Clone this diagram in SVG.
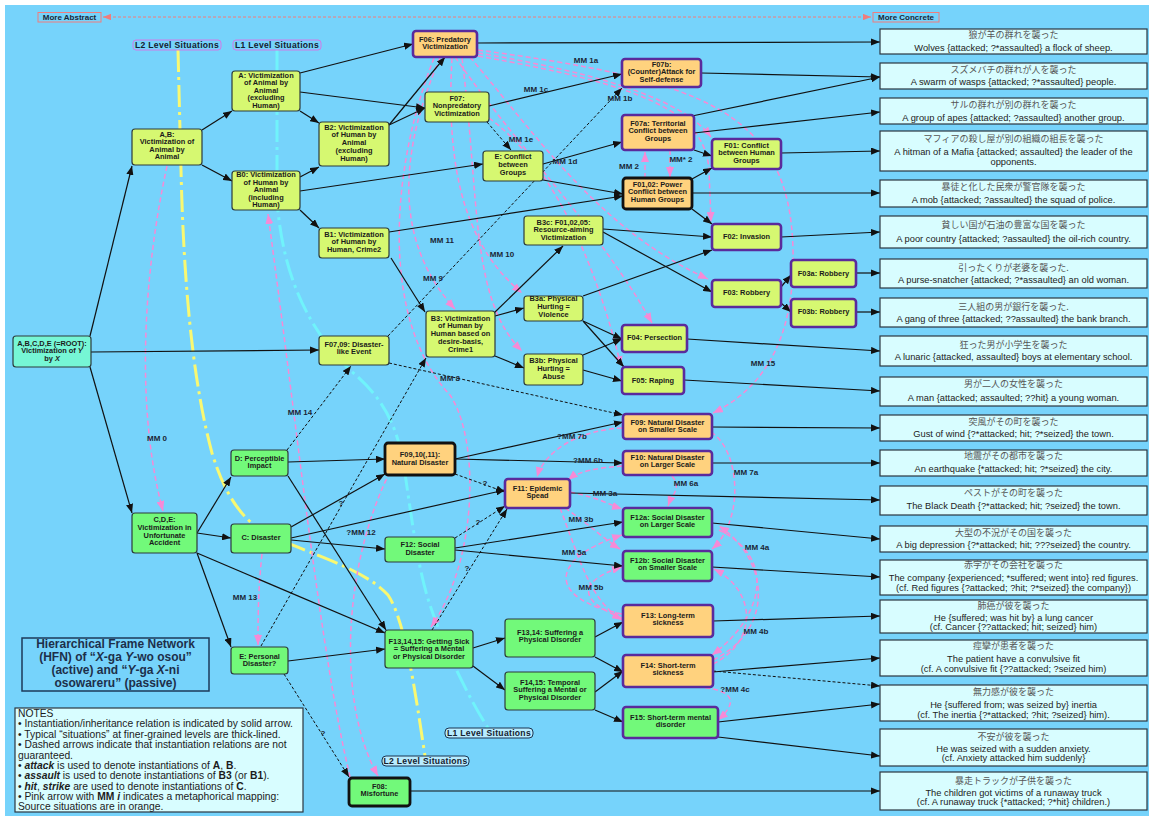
<svg xmlns="http://www.w3.org/2000/svg" width="1149" height="816" viewBox="0 0 1149 816">
<defs>
<style>
.t{font-family:"Liberation Sans",Arial,sans-serif;font-weight:bold;font-size:7.4px;text-anchor:middle;fill:#1b1b1b}
.n{stroke:#2d3b3b;stroke-width:1.2}
.yg{fill:#D6F871}
.or{fill:#FFD27E}
.gr{fill:#72F97A}
.tl{fill:#76F6D5}
.pp{stroke:#5A2A9C;stroke-width:2.6}
.bk{stroke:#111;stroke-width:2.8}
.c{fill:none;stroke:#111;stroke-width:1.2;marker-end:url(#ab)}
.d{fill:none;stroke:#111;stroke-width:1;stroke-dasharray:3 2;marker-end:url(#ab)}
.pk{fill:none;stroke:#F78AD6;stroke-width:1.5;stroke-dasharray:5 3;marker-end:url(#ap)}
.ex{fill:#D8FDFF;stroke:#2b3640;stroke-width:1.2}
.jp{font-family:"Noto Sans CJK JP",sans-serif;font-size:9px;fill:#555;text-anchor:middle}
.en{font-family:"Liberation Sans",Arial,sans-serif;font-size:9.3px;fill:#222;text-anchor:middle}
.mm{font-family:"Liberation Sans",Arial,sans-serif;font-weight:bold;font-size:8px;fill:#1a2636;text-anchor:middle}
.lv{font-family:"Liberation Sans",Arial,sans-serif;font-weight:bold;font-size:8.6px;fill:#14202e;text-anchor:middle;letter-spacing:0.3px}
.nt{font-family:"Liberation Sans",Arial,sans-serif;font-size:10.3px;fill:#1b1b1b}
.ti{font-family:"Liberation Sans",Arial,sans-serif;font-weight:bold;font-size:12px;fill:#1d2f4a;text-anchor:middle}
</style>
<marker id="ab" viewBox="0 0 10 8" refX="10" refY="4" markerWidth="9" markerHeight="7.2" orient="auto" markerUnits="userSpaceOnUse"><path d="M0,0 L10,4 L0,8 z" fill="#111"/></marker>
<marker id="ap" viewBox="0 0 10 8" refX="10" refY="4" markerWidth="10" markerHeight="8" orient="auto" markerUnits="userSpaceOnUse"><path d="M0,0 L10,4 L0,8 z" fill="#F78AD6"/></marker>
<marker id="as" viewBox="0 0 10 8" refX="10" refY="4" markerWidth="8" markerHeight="6.4" orient="auto" markerUnits="userSpaceOnUse"><path d="M0,0 L10,4 L0,8 z" fill="#F07C7C"/></marker>
<marker id="as0" viewBox="0 0 10 8" refX="0" refY="4" markerWidth="8" markerHeight="6.4" orient="auto" markerUnits="userSpaceOnUse"><path d="M10,0 L0,4 L10,8 z" fill="#F07C7C"/></marker>
</defs>
<rect x="0" y="0" width="1149" height="816" fill="#ffffff"/>
<rect x="5" y="5" width="1144" height="811" fill="#76D3FB"/>

<g id="axis">
<line x1="103" y1="17" x2="871" y2="17" stroke="#F07C7C" stroke-width="1" stroke-dasharray="3 2" marker-start="url(#as0)" marker-end="url(#as)"/>
<rect x="38" y="12.5" width="63" height="9.5" fill="none" stroke="#F07C7C" stroke-width="1"/>
<text class="mm" x="69.5" y="20.3">More Abstract</text>
<rect x="873" y="12.5" width="66" height="9.5" fill="none" stroke="#F07C7C" stroke-width="1"/>
<text class="mm" x="906" y="20.3">More Concrete</text>
</g>

<g id="level-lines">
<path d="M178,50 L181,170 C184,300 195,390 212,453 C225,495 240,515 260,530 C300,552 360,565 388,595 C405,620 415,690 425,756" fill="none" stroke="#F9F871" stroke-width="3" stroke-dasharray="22 5 3 5"/>
<path d="M277,50 L277,200 C283,280 310,330 350,370 C380,395 395,420 403,460 C412,520 418,570 430,605 C445,650 470,700 488,728" fill="none" stroke="#70F3FB" stroke-width="3" stroke-dasharray="22 5 3 5"/>
<rect x="133" y="40" width="88" height="10" rx="3" fill="#76D3FB" stroke="#D07BE8" stroke-width="1"/>
<text class="lv" x="177" y="48.3">L2 Level Situations</text>
<rect x="233" y="40" width="88" height="10" rx="3" fill="#76D3FB" stroke="#D07BE8" stroke-width="1"/>
<text class="lv" x="277" y="48.3">L1 Level Situations</text>
</g>

<g id="connectors">
<path class="pk" d="M167,166 C140,290 138,420 163,511"/>
<path class="pk" d="M350,777 C320,650 300,450 268,214"/>
<path class="pk" d="M390,472 C345,560 335,700 378,776"/>
<path class="pk" d="M262,554 C258,590 258,620 258,645"/>
<path class="pk" d="M440,58 C400,150 392,240 455,309"/>
<path class="pk" d="M434,58 C390,170 380,320 450,395 C480,440 478,560 431,627"/>
<path class="pk" d="M452,58 C445,180 470,250 522,293"/>
<path class="pk" d="M462,58 C480,200 470,300 522,351"/>
<path class="pk" d="M470,57 C540,140 600,230 708,279"/>
<path class="pk" d="M455,57 C520,150 600,230 652,323"/>
<path class="pk" d="M489,118 C560,170 600,280 621,366"/>
<path class="pk" d="M478,50 C700,80 790,110 793,250 C795,330 770,385 713,413"/>
<path class="pk" d="M478,53 C580,70 680,95 711,137"/>
<path class="pk" d="M478,56 C640,85 705,110 709,170 L711,222"/>
<path class="pk" d="M645,178 L645,152"/>
<path class="pk" d="M670,150 L670,177"/>
<path class="pk" d="M622,428 C580,430 545,450 537,477"/>
<path class="pk" d="M622,466 C600,468 580,470 568,480"/>
<path class="pk" d="M672,476 C682,488 672,495 668,506"/>
<path class="pk" d="M570,492 C600,498 610,505 622,509"/>
<path class="pk" d="M565,508 C590,525 605,540 620,549"/>
<path class="pk" d="M622,614 C550,600 545,560 622,535"/>
<path class="pk" d="M622,618 C575,600 580,580 622,567"/>
<path class="pk" d="M560,508 C580,560 590,600 622,620"/>
<path class="pk" d="M711,432 C740,450 745,520 712,549"/>
<path class="pk" d="M713,660 C775,630 770,560 719,526"/>
<path class="pk" d="M713,664 C760,640 755,590 714,569"/>
<path class="pk" d="M719,530 C780,560 760,620 712,655"/>
<path class="pk" d="M697,687 C740,690 735,705 718,720"/>
<path class="d" d="M487,122 L511,150"/>
<path class="d" d="M388,336 L622,88"/>
<path class="d" d="M389,363 L623,415"/>
<path class="d" d="M287,450 L351,366"/>
<path class="d" d="M261,646 L426,358"/>
<path class="d" d="M455,474 L505,492"/>
<path class="d" d="M455,538 L505,506"/>
<path class="d" d="M432,630 L507,509"/>
<path class="d" d="M284,674 L349,777"/>
<path class="d" d="M713,671 L880,686"/>
<path class="c" d="M90,336 L132,166"/>
<path class="c" d="M90,367 L132,513"/>
<path class="c" d="M91,352 L319,350"/>
<path class="c" d="M202,130 L232,111"/>
<path class="c" d="M202,165 L232,181"/>
<path class="c" d="M300,73 L413,44"/>
<path class="c" d="M300,92 L425,108"/>
<path class="c" d="M300,111 L319,123"/>
<path class="c" d="M300,177 L319,167"/>
<path class="c" d="M300,191 L483,164"/>
<path class="c" d="M300,210 L319,228"/>
<path class="c" d="M389,125 L445,57"/>
<path class="c" d="M389,125 L425,108"/>
<path class="c" d="M389,232 L623,196"/>
<path class="c" d="M391,258 L425,312"/>
<path class="c" d="M543,164 L622,142"/>
<path class="c" d="M543,180 L623,194"/>
<path class="c" d="M489,106 L622,74"/>
<path class="c" d="M694,150 L712,156"/>
<path class="c" d="M692,179 L712,168"/>
<path class="c" d="M692,209 L712,224"/>
<path class="c" d="M603,229 L712,237"/>
<path class="c" d="M603,232 L712,292"/>
<path class="c" d="M494,313 L563,246"/>
<path class="c" d="M495,316 L524,308"/>
<path class="c" d="M495,356 L524,368"/>
<path class="c" d="M583,296 L712,250"/>
<path class="c" d="M583,321 L622,339"/>
<path class="c" d="M583,321 L624,367"/>
<path class="c" d="M583,355 L622,339"/>
<path class="c" d="M583,370 L622,381"/>
<path class="c" d="M781,287 L791,275"/>
<path class="c" d="M781,303 L791,312"/>
<path class="c" d="M197,533 L231,477"/>
<path class="c" d="M197,533 L231,538"/>
<path class="c" d="M197,553 L231,647"/>
<path class="c" d="M197,553 L385,633"/>
<path class="c" d="M288,462 L385,459"/>
<path class="c" d="M288,476 L386,630"/>
<path class="c" d="M291,527 L385,474"/>
<path class="c" d="M291,538 L505,490"/>
<path class="c" d="M291,540 L385,549"/>
<path class="c" d="M288,661 L385,649"/>
<path class="c" d="M455,459 L623,422"/>
<path class="c" d="M455,459 L623,463"/>
<path class="c" d="M455,548 L623,522"/>
<path class="c" d="M455,550 L623,566"/>
<path class="c" d="M473,648 L505,638"/>
<path class="c" d="M473,666 L505,690"/>
<path class="c" d="M595,637 L623,622"/>
<path class="c" d="M595,657 L623,672"/>
<path class="c" d="M595,692 L623,671"/>
<path class="c" d="M595,710 L623,722"/>
<path class="c" d="M477,43 L880,42"/>
<path class="c" d="M701,73 L880,77"/>
<path class="c" d="M692,116 L880,77"/>
<path class="c" d="M694,133 L880,112"/>
<path class="c" d="M781,153 L880,151"/>
<path class="c" d="M692,193 L880,193"/>
<path class="c" d="M781,237 L880,232"/>
<path class="c" d="M856,273 L880,273"/>
<path class="c" d="M856,312 L880,312"/>
<path class="c" d="M687,339 L880,351"/>
<path class="c" d="M684,380 L880,391"/>
<path class="c" d="M712,427 L880,428"/>
<path class="c" d="M712,463 L880,463"/>
<path class="c" d="M570,493 L880,500"/>
<path class="c" d="M712,523 L880,539"/>
<path class="c" d="M712,567 L880,577"/>
<path class="c" d="M713,621 L880,616"/>
<path class="c" d="M713,672 L880,658"/>
<path class="c" d="M718,722 L880,704"/>
<path class="c" d="M718,737 L880,756"/>
<path class="c" d="M410,791 L880,791"/>
</g>

<g id="n-AB"><rect class="n yg" x="132" y="129" width="70" height="36" rx="3"/><text class="t"><tspan x="167" y="136.6">A,B:</tspan><tspan x="167" y="144.2">Victimization of</tspan><tspan x="167" y="151.8">Animal by</tspan><tspan x="167" y="159.4">Animal</tspan></text></g>
<g id="n-A"><rect class="n yg" x="232" y="71" width="68" height="40" rx="3"/><text class="t"><tspan x="266" y="77.6">A: Victimization</tspan><tspan x="266" y="85.2">of Animal by</tspan><tspan x="266" y="92.8">Animal</tspan><tspan x="266" y="100.4">(excluding</tspan><tspan x="266" y="108">Human)</tspan></text></g>
<g id="n-B0"><rect class="n yg" x="232" y="171" width="68" height="39" rx="3"/><text class="t"><tspan x="266" y="177.1">B0: Victimization</tspan><tspan x="266" y="184.6">of Human by</tspan><tspan x="266" y="192.1">Animal</tspan><tspan x="266" y="199.6">(including</tspan><tspan x="266" y="207.1">Human)</tspan></text></g>
<g id="n-B2"><rect class="n yg" x="319" y="122" width="70" height="44" rx="3"/><text class="t"><tspan x="354" y="129.6">B2: Victimization</tspan><tspan x="354" y="137.4">of Human by</tspan><tspan x="354" y="145.2">Animal</tspan><tspan x="354" y="153">(excluding</tspan><tspan x="354" y="160.8">Human)</tspan></text></g>
<g id="n-B1"><rect class="n yg" x="319" y="228" width="70" height="30" rx="3"/><text class="t"><tspan x="354" y="236.6">B1: Victimization</tspan><tspan x="354" y="244.2">of Human by</tspan><tspan x="354" y="251.8">Human, Crime2</tspan></text></g>
<g id="n-ROOT"><rect class="n tl" x="13" y="336" width="78" height="31" rx="3"/><text class="t"><tspan x="52" y="345.6">A,B,C,D,E (=ROOT):</tspan><tspan x="52" y="353.2">Victimization of <tspan font-style="italic">Y</tspan></tspan><tspan x="52" y="360.8">by <tspan font-style="italic">X</tspan></tspan></text></g>
<g id="n-F0709"><rect class="n yg" x="319" y="336" width="70" height="29" rx="3"/><text class="t"><tspan x="354" y="346.6">F07,09: Disaster-</tspan><tspan x="354" y="354.4">like Event</tspan></text></g>
<g id="n-F06"><rect class="or pp" x="413" y="31" width="64" height="26" rx="3"/><text class="t"><tspan x="445" y="41.6">F06: Predatory</tspan><tspan x="445" y="49.4">Victimization</tspan></text></g>
<g id="n-F07"><rect class="n yg" x="425" y="92" width="64" height="30" rx="3"/><text class="t"><tspan x="457" y="100.6">F07:</tspan><tspan x="457" y="108.2">Nonpredatory</tspan><tspan x="457" y="115.8">Victimization</tspan></text></g>
<g id="n-E"><rect class="n yg" x="483" y="151" width="60" height="30" rx="3"/><text class="t"><tspan x="513" y="158.6">E: Conflict</tspan><tspan x="513" y="166.6">between</tspan><tspan x="513" y="174.6">Groups</tspan></text></g>
<g id="n-F07b"><rect class="or pp" x="622" y="59" width="79" height="28" rx="3"/><text class="t"><tspan x="661.5" y="66.6">F07b:</tspan><tspan x="661.5" y="74.4">(Counter)Attack for</tspan><tspan x="661.5" y="82">Self-defense</tspan></text></g>
<g id="n-F07a"><rect class="or pp" x="622" y="115" width="72" height="35" rx="3"/><text class="t"><tspan x="658" y="125.6">F07a: Territorial</tspan><tspan x="658" y="133.2">Conflict between</tspan><tspan x="658" y="140.8">Groups</tspan></text></g>
<g id="n-F01"><rect class="yg pp" x="712" y="139" width="69" height="30" rx="3"/><text class="t"><tspan x="746.5" y="147.6">F01: Conflict</tspan><tspan x="746.5" y="155.2">between Human</tspan><tspan x="746.5" y="162.8">Groups</tspan></text></g>
<g id="n-F0102"><rect class="or bk" x="623" y="178" width="69" height="31" rx="3"/><text class="t"><tspan x="657.5" y="186.6">F01,02: Power</tspan><tspan x="657.5" y="194.4">Conflict between</tspan><tspan x="657.5" y="202.2">Human Groups</tspan></text></g>
<g id="n-B3c"><rect class="n yg" x="524" y="216" width="79" height="29" rx="3"/><text class="t"><tspan x="563.5" y="224.6">B3c: F01,02,05:</tspan><tspan x="563.5" y="232">Resource-aiming</tspan><tspan x="563.5" y="239.6">Victimization</tspan></text></g>
<g id="n-F02"><rect class="yg pp" x="712" y="224" width="69" height="26" rx="3"/><text class="t" x="746.5" y="238.8">F02: Invasion</text></g>
<g id="n-F03"><rect class="yg pp" x="712" y="280" width="69" height="27" rx="3"/><text class="t" x="746.5" y="294.8">F03: Robbery</text></g>
<g id="n-B3"><rect class="n yg" x="426" y="311" width="69" height="46" rx="3"/><text class="t"><tspan x="460.5" y="320.6">B3: Victimization</tspan><tspan x="460.5" y="328.4">of Human by</tspan><tspan x="460.5" y="336.2">Human based on</tspan><tspan x="460.5" y="344">desire-basis,</tspan><tspan x="460.5" y="351.8">Crime1</tspan></text></g>
<g id="n-B3a"><rect class="n yg" x="524" y="296" width="59" height="25" rx="3"/><text class="t"><tspan x="553.5" y="301.4">B3a: Physical</tspan><tspan x="553.5" y="309">Hurting =</tspan><tspan x="553.5" y="316.6">Violence</tspan></text></g>
<g id="n-B3b"><rect class="n yg" x="524" y="354" width="59" height="31" rx="3"/><text class="t"><tspan x="553.5" y="363.4">B3b: Physical</tspan><tspan x="553.5" y="371">Hurting =</tspan><tspan x="553.5" y="378.6">Abuse</tspan></text></g>
<g id="n-F04"><rect class="yg pp" x="622" y="325" width="65" height="27" rx="3"/><text class="t" x="654.5" y="339.8">F04: Persection</text></g>
<g id="n-F05"><rect class="yg pp" x="622" y="367" width="62" height="27" rx="3"/><text class="t" x="653" y="382.8">F05: Raping</text></g>
<g id="n-F03a"><rect class="yg pp" x="791" y="260" width="65" height="27" rx="3"/><text class="t" x="823.5" y="276">F03a: Robbery</text></g>
<g id="n-F03b"><rect class="yg pp" x="791" y="299" width="65" height="28" rx="3"/><text class="t" x="823.5" y="314">F03b: Robbery</text></g>
<g id="n-CDE"><rect class="n gr" x="132" y="513" width="65" height="40" rx="3"/><text class="t"><tspan x="164.5" y="522.4">C,D,E:</tspan><tspan x="164.5" y="530">Victimization in</tspan><tspan x="164.5" y="537.6">Unfortunate</tspan><tspan x="164.5" y="545.2">Accident</tspan></text></g>
<g id="n-D"><rect class="n gr" x="231" y="450" width="57" height="26" rx="3"/><text class="t"><tspan x="259.5" y="460.6">D: Perceptible</tspan><tspan x="259.5" y="468.2">Impact</tspan></text></g>
<g id="n-C"><rect class="n gr" x="231" y="524" width="60" height="29" rx="3"/><text class="t" x="261" y="540">C: Disaster</text></g>
<g id="n-EP"><rect class="n gr" x="231" y="647" width="57" height="27" rx="3"/><text class="t"><tspan x="259.5" y="658.6">E: Personal</tspan><tspan x="259.5" y="666.4">Disaster?</tspan></text></g>
<g id="n-F091011"><rect class="or bk" x="385" y="443" width="70" height="32" rx="3"/><text class="t"><tspan x="420" y="456.6">F09,10(,11):</tspan><tspan x="420" y="464.6">Natural Disaster</tspan></text></g>
<g id="n-F12"><rect class="n gr" x="385" y="537" width="70" height="25" rx="3"/><text class="t"><tspan x="420" y="546.8">F12: Social</tspan><tspan x="420" y="554.6">Disaster</tspan></text></g>
<g id="n-F11"><rect class="or pp" x="505" y="479" width="65" height="29" rx="3"/><text class="t"><tspan x="537.5" y="490.6">F11: Epidemic</tspan><tspan x="537.5" y="498.4">Spead</tspan></text></g>
<g id="n-F09"><rect class="or pp" x="623" y="414" width="89" height="25" rx="3"/><text class="t"><tspan x="667.5" y="424.6">F09: Natural Disaster</tspan><tspan x="667.5" y="432.2">on Smaller Scale</tspan></text></g>
<g id="n-F10"><rect class="or pp" x="623" y="451" width="89" height="24" rx="3"/><text class="t"><tspan x="667.5" y="459.8">F10: Natural Disaster</tspan><tspan x="667.5" y="467.4">on Larger Scale</tspan></text></g>
<g id="n-F12a"><rect class="gr pp" x="623" y="508" width="89" height="29" rx="3"/><text class="t"><tspan x="667.5" y="519.6">F12a: Social Disaster</tspan><tspan x="667.5" y="527.4">on Larger Scale</tspan></text></g>
<g id="n-F12b"><rect class="gr pp" x="623" y="551" width="89" height="30" rx="3"/><text class="t"><tspan x="667.5" y="562.6">F12b: Social Disaster</tspan><tspan x="667.5" y="570.4">on Smaller Scale</tspan></text></g>
<g id="n-F13"><rect class="or pp" x="623" y="605" width="90" height="32" rx="3"/><text class="t"><tspan x="668" y="617.6">F13: Long-term</tspan><tspan x="668" y="625.4">sickness</tspan></text></g>
<g id="n-F14"><rect class="or pp" x="623" y="655" width="90" height="32" rx="3"/><text class="t"><tspan x="668" y="667.6">F14: Short-term</tspan><tspan x="668" y="675.4">sickness</tspan></text></g>
<g id="n-F15"><rect class="gr pp" x="623" y="707" width="95" height="31" rx="3"/><text class="t"><tspan x="670.5" y="719.6">F15: Short-term mental</tspan><tspan x="670.5" y="727.4">disorder</tspan></text></g>
<g id="n-F131415"><rect class="n gr" x="385" y="630" width="88" height="38" rx="3"/><text class="t"><tspan x="429" y="643.6">F13,14,15: Getting Sick</tspan><tspan x="429" y="651.2">= Suffering a Mental</tspan><tspan x="429" y="658.8">or Physical Disorder</tspan></text></g>
<g id="n-F1314"><rect class="n gr" x="505" y="619" width="90" height="38" rx="3"/><text class="t"><tspan x="550" y="634.6">F13,14: Suffering a</tspan><tspan x="550" y="642.4">Physical Disorder</tspan></text></g>
<g id="n-F1415"><rect class="n gr" x="505" y="672" width="90" height="38" rx="3"/><text class="t"><tspan x="550" y="684.6">F14,15: Temporal</tspan><tspan x="550" y="692.2">Suffering a Mental or</tspan><tspan x="550" y="699.8">Physical Disorder</tspan></text></g>
<g id="n-F08"><rect class="gr bk" x="349" y="778" width="61" height="28" rx="3"/><text class="t"><tspan x="379.5" y="788.6">F08:</tspan><tspan x="379.5" y="796.4">Misfortune</tspan></text></g>

<g id="level-labels-bottom">
<rect x="445" y="728" width="88" height="10" rx="4" fill="#B8ECFF" stroke="#1a3350" stroke-width="1"/>
<text class="lv" x="489" y="736.3">L1 Level Situations</text>
<rect x="382" y="756" width="87" height="10" rx="4" fill="#B8ECFF" stroke="#1a3350" stroke-width="1"/>
<text class="lv" x="425.5" y="764.3">L2 Level Situations</text>
</g>

<g id="mm-labels">
<text class="mm" x="586" y="63">MM 1a</text>
<text class="mm" x="536" y="92">MM 1c</text>
<text class="mm" x="620" y="101">MM 1b</text>
<text class="mm" x="521" y="142">MM 1e</text>
<text class="mm" x="565" y="164">MM 1d</text>
<text class="mm" x="629" y="169">MM 2</text>
<text class="mm" x="681" y="162">MM* 2</text>
<text class="mm" x="442" y="243">MM 11</text>
<text class="mm" x="502" y="257">MM 10</text>
<text class="mm" x="433" y="281">MM 9</text>
<text class="mm" x="450" y="381">MM 8</text>
<text class="mm" x="763" y="366">MM 15</text>
<text class="mm" x="157" y="441">MM 0</text>
<text class="mm" x="300" y="415">MM 14</text>
<text class="mm" x="361" y="535">?MM 12</text>
<text class="mm" x="245" y="600">MM 13</text>
<text class="mm" x="341" y="506">?</text>
<text class="mm" x="572" y="439">?MM 7b</text>
<text class="mm" x="588" y="463">?MM 6b</text>
<text class="mm" x="686" y="486">MM 6a</text>
<text class="mm" x="746" y="475">MM 7a</text>
<text class="mm" x="605" y="496">MM 3a</text>
<text class="mm" x="581" y="522">MM 3b</text>
<text class="mm" x="574" y="555">MM 5a</text>
<text class="mm" x="591" y="590">MM 5b</text>
<text class="mm" x="757" y="550">MM 4a</text>
<text class="mm" x="756" y="634">MM 4b</text>
<text class="mm" x="735" y="692">?MM 4c</text>
<text class="mm" x="485" y="486">?</text>
<text class="mm" x="478" y="525">?</text>
<text class="mm" x="467" y="571">?</text>
<text class="mm" x="323" y="736">?</text>
</g>

<g id="examples">
<g id="ex1"><rect class="ex" x="880" y="29" width="267" height="25"/><text class="jp" x="1013.5" y="37.5">狼が羊の群れを襲った</text><text class="en" x="1013.5" y="51">Wolves {attacked; ?*assaulted} a flock of sheep.</text></g>
<g id="ex2"><rect class="ex" x="880" y="63" width="267" height="26"/><text class="jp" x="1013.5" y="72.5">スズメバチの群れが人を襲った</text><text class="en" x="1013.5" y="85">A swarm of wasps {attacked; ?*assaulted} people.</text></g>
<g id="ex3"><rect class="ex" x="880" y="98" width="267" height="26"/><text class="jp" x="1013.5" y="107.5">サルの群れが別の群れを襲った</text><text class="en" x="1013.5" y="121">A group of apes {attacked; ?assaulted} another group.</text></g>
<g id="ex4"><rect class="ex" x="880" y="131" width="267" height="40"/><text class="jp" x="1013.5" y="141.5">マフィアの殺し屋が別の組織の組長を襲った</text><text class="en" x="1013.5" y="155">A hitman of a Mafia {attacked; assaulted} the leader of the</text><text class="en" x="1013.5" y="165">opponents.</text></g>
<g id="ex5"><rect class="ex" x="880" y="180" width="267" height="27"/><text class="jp" x="1013.5" y="189.5">暴徒と化した民衆が警官隊を襲った</text><text class="en" x="1013.5" y="203">A mob {attacked; ?assaulted} the squad of police.</text></g>
<g id="ex6"><rect class="ex" x="880" y="216" width="267" height="32"/><text class="jp" x="1013.5" y="227.5">貧しい国が石油の豊富な国を襲った</text><text class="en" x="1013.5" y="242">A poor country {attacked; ?assaulted} the oil-rich country.</text></g>
<g id="ex7"><rect class="ex" x="880" y="259" width="267" height="29"/><text class="jp" x="1013.5" y="270.5">引ったくりが老婆を襲った.</text><text class="en" x="1013.5" y="283">A purse-snatcher {attacked; ?*assaulted} an old woman.</text></g>
<g id="ex8"><rect class="ex" x="880" y="298" width="267" height="29"/><text class="jp" x="1013.5" y="309.5">三人組の男が銀行を襲った.</text><text class="en" x="1013.5" y="322">A gang of three {attacked; ??assaulted} the bank branch.</text></g>
<g id="ex9"><rect class="ex" x="880" y="336" width="267" height="30"/><text class="jp" x="1013.5" y="347.5">狂った男が小学生を襲った</text><text class="en" x="1013.5" y="360">A lunaric {attacked, assaulted} boys at elementary school.</text></g>
<g id="ex10"><rect class="ex" x="880" y="377" width="267" height="29"/><text class="jp" x="1013.5" y="386.5">男が二人の女性を襲った</text><text class="en" x="1013.5" y="401">A man {attacked; assaulted; ??hit} a young woman.</text></g>
<g id="ex11"><rect class="ex" x="880" y="415" width="267" height="26"/><text class="jp" x="1013.5" y="424.5">突風がその町を襲った</text><text class="en" x="1013.5" y="437">Gust of wind {?*attacked; hit; ?*seized} the town.</text></g>
<g id="ex12"><rect class="ex" x="880" y="450" width="267" height="26"/><text class="jp" x="1013.5" y="458.5">地震がその都市を襲った</text><text class="en" x="1013.5" y="472">An earthquake {*attacked; hit; ?*seized} the city.</text></g>
<g id="ex13"><rect class="ex" x="880" y="486" width="267" height="29"/><text class="jp" x="1013.5" y="495.5">ペストがその町を襲った</text><text class="en" x="1013.5" y="509">The Black Death {?*attacked; hit; ?seized} the town.</text></g>
<g id="ex14"><rect class="ex" x="880" y="526" width="267" height="26"/><text class="jp" x="1013.5" y="535.5">大型の不況がその国を襲った</text><text class="en" x="1013.5" y="548">A big depression {?*attacked; hit; ???seized} the country.</text></g>
<g id="ex15"><rect class="ex" x="880" y="560" width="267" height="35"/><text class="jp" x="1013.5" y="567.5">赤字がその会社を襲った</text><text class="en" x="1013.5" y="581">The company {experienced; *suffered; went into} red figures.</text><text class="en" x="1013.5" y="591">(cf. Red figures {?attacked; ?hit; ?*seized} the company})</text></g>
<g id="ex16"><rect class="ex" x="880" y="600" width="267" height="33"/><text class="jp" x="1013.5" y="608.5">肺癌が彼を襲った</text><text class="en" x="1013.5" y="621">He {suffered; was hit by} a lung cancer</text><text class="en" x="1013.5" y="630">(cf. Cancer {??attacked; hit; seized} him)</text></g>
<g id="ex17"><rect class="ex" x="880" y="640" width="267" height="36"/><text class="jp" x="1013.5" y="648.5">痙攣が患者を襲った</text><text class="en" x="1013.5" y="662">The patient have a convulsive fit</text><text class="en" x="1013.5" y="672">(cf. A convulsive fit {??attacked; ?seized him)</text></g>
<g id="ex18"><rect class="ex" x="880" y="685" width="267" height="36"/><text class="jp" x="1013.5" y="694.5">無力感が彼を襲った</text><text class="en" x="1013.5" y="708">He {suffered from; was seized by} inertia</text><text class="en" x="1013.5" y="718">(cf. The inertia {?*attacked; ?hit; ?seized} him).</text></g>
<g id="ex19"><rect class="ex" x="880" y="729" width="267" height="37"/><text class="jp" x="1013.5" y="739.5">不安が彼を襲った</text><text class="en" x="1013.5" y="752">He was seized with a sudden anxiety.</text><text class="en" x="1013.5" y="761">(cf. Anxiety attacked him suddenly}</text></g>
<g id="ex20"><rect class="ex" x="880" y="772" width="267" height="38"/><text class="jp" x="1013.5" y="783.5">暴走トラックが子供を襲った</text><text class="en" x="1013.5" y="796">The children got victims of a runaway truck</text><text class="en" x="1013.5" y="805">(cf. A runaway truck {*attacked; ?*hit} children.)</text></g>
</g>

<g id="title">
<rect x="22" y="638" width="187" height="53" fill="none" stroke="#1d3a5a" stroke-width="1.5"/>
<text class="ti"><tspan x="115.5" y="648.3">Hierarchical Frame Network</tspan><tspan x="115.5" y="661.3">(HFN) of “<tspan font-style="italic">X</tspan>-ga <tspan font-style="italic">Y</tspan>-wo osou”</tspan><tspan x="115.5" y="674.3">(active) and “<tspan font-style="italic">Y</tspan>-ga <tspan font-style="italic">X</tspan>-ni</tspan><tspan x="115.5" y="687.3">osowareru” (passive)</tspan></text>
</g>

<g id="notes">
<rect x="15" y="708" width="288" height="104" fill="#D8FDFF" stroke="#2b3640" stroke-width="1.2"/>
<text class="nt">
<tspan x="18" y="716.5">NOTES</tspan>
<tspan x="18" y="727.2">• Instantiation/inheritance relation is indicated by solid arrow.</tspan>
<tspan x="18" y="737.6">• Typical “situations” at finer-grained levels are thick-lined.</tspan>
<tspan x="18" y="748.2">• Dashed arrows indicate that instantiation relations are not</tspan>
<tspan x="18" y="758.6">guaranteed.</tspan>
<tspan x="18" y="769">• <tspan font-weight="bold" font-style="italic">attack</tspan> is used to denote instantiations of <tspan font-weight="bold">A</tspan>, <tspan font-weight="bold">B</tspan>.</tspan>
<tspan x="18" y="779.4">• <tspan font-weight="bold" font-style="italic">assault</tspan> is used to denote instantiations of <tspan font-weight="bold">B3</tspan> (or <tspan font-weight="bold">B1</tspan>).</tspan>
<tspan x="18" y="789.8">• <tspan font-weight="bold" font-style="italic">hit</tspan>, <tspan font-weight="bold" font-style="italic">strike</tspan> are used to denote instantiations of <tspan font-weight="bold">C</tspan>.</tspan>
<tspan x="18" y="800.2">• Pink arrow with <tspan font-weight="bold">MM <tspan font-style="italic">i</tspan></tspan> indicates a metaphorical mapping:</tspan>
<tspan x="18" y="810.4">Source situations are in orange.</tspan>
</text>
</g>
</svg>
